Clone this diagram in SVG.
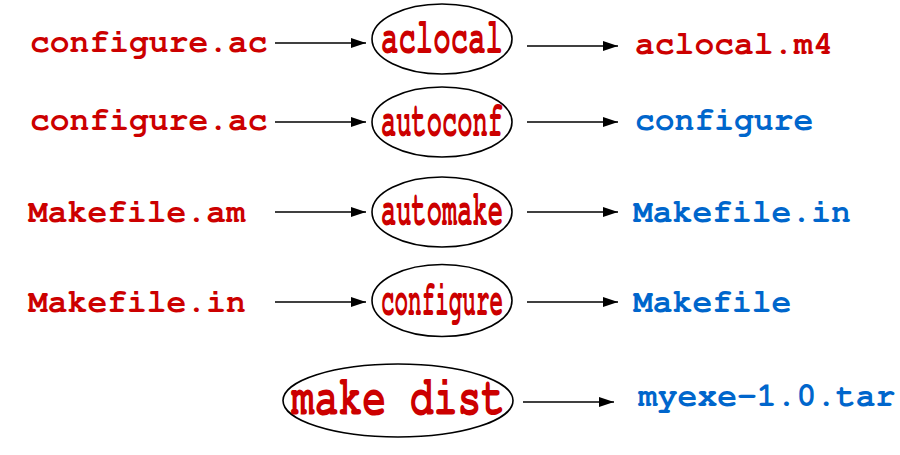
<svg xmlns="http://www.w3.org/2000/svg" width="900" height="455" viewBox="0 0 900 455">
<style>
.in{font-family:"Nimbus Mono PS","Nimbus Mono L","FreeMono","Courier New","Liberation Mono",monospace;font-weight:bold;font-size:33px;fill:#cc0000}
.out{font-family:"Nimbus Mono PS","Nimbus Mono L","FreeMono","Courier New","Liberation Mono",monospace;font-weight:bold;font-size:33px;fill:#0066cc}
.tool{font-family:"Nimbus Mono PS","Nimbus Mono L","FreeMono","Courier New","Liberation Mono",monospace;font-weight:bold;font-size:50px;fill:#cc0000;text-anchor:middle}
.ell{fill:none;stroke:#000;stroke-width:1.6}
.arr{stroke:#000;stroke-width:1.5;fill:none;marker-end:url(#ah)}
</style>
<defs>
<marker id="ah" viewBox="0 0 15 10" refX="15" refY="5" markerWidth="15" markerHeight="10" markerUnits="userSpaceOnUse" orient="auto">
<path d="M0,0 L15,5 L0,10 z" fill="#000"/>
</marker>
</defs>
<rect width="900" height="455" fill="#fff"/>
<g id="connectors">
<line class="arr" x1="275" y1="43" x2="366" y2="43"/>
<line class="arr" x1="527" y1="46" x2="618" y2="46"/>
<line class="arr" x1="275" y1="122" x2="366" y2="122"/>
<line class="arr" x1="527" y1="122" x2="618" y2="122"/>
<line class="arr" x1="275" y1="212" x2="366" y2="212"/>
<line class="arr" x1="527" y1="212" x2="618" y2="212"/>
<line class="arr" x1="275" y1="302" x2="366" y2="302"/>
<line class="arr" x1="527" y1="302" x2="618" y2="302"/>
<line class="arr" x1="523" y1="402" x2="614" y2="402"/>
</g>
<g id="in-configure-ac-1"><text class="in" x="30" y="52">configure.ac</text></g>
<g id="aclocal"><ellipse class="ell" cx="442" cy="39" rx="70" ry="35"/><text class="tool" x="442" y="53" textLength="122" lengthAdjust="spacingAndGlyphs">aclocal</text></g>
<g id="out-aclocal-m4"><text class="in" x="635" y="54">aclocal.m4</text></g>
<g id="in-configure-ac-2"><text class="in" x="30" y="130">configure.ac</text></g>
<g id="autoconf"><ellipse class="ell" cx="442" cy="122" rx="70" ry="35"/><text class="tool" x="442" y="136" textLength="122" lengthAdjust="spacingAndGlyphs">autoconf</text></g>
<g id="out-configure"><text class="out" x="635" y="130">configure</text></g>
<g id="in-makefile-am"><text class="in" x="28" y="222">Makefile.am</text></g>
<g id="automake"><ellipse class="ell" cx="442" cy="212" rx="70" ry="35"/><text class="tool" x="442" y="225" textLength="122" lengthAdjust="spacingAndGlyphs">automake</text></g>
<g id="out-makefile-in"><text class="out" x="633" y="222">Makefile.in</text></g>
<g id="in-makefile-in"><text class="in" x="28" y="312">Makefile.in</text></g>
<g id="configure"><ellipse class="ell" cx="442" cy="300.5" rx="70" ry="36"/><text class="tool" x="442" y="315" textLength="122" lengthAdjust="spacingAndGlyphs">configure</text></g>
<g id="out-makefile"><text class="out" x="633" y="312">Makefile</text></g>
<g id="make-dist"><ellipse class="ell" cx="398" cy="400.5" rx="115" ry="36.5"/><text class="tool" x="398" y="414" style="font-size:56px" textLength="214" lengthAdjust="spacingAndGlyphs">make dist</text></g>
<g id="out-myexe-tar"><text class="out" x="638" y="406">myexe-1.0.tar</text></g>
</svg>
